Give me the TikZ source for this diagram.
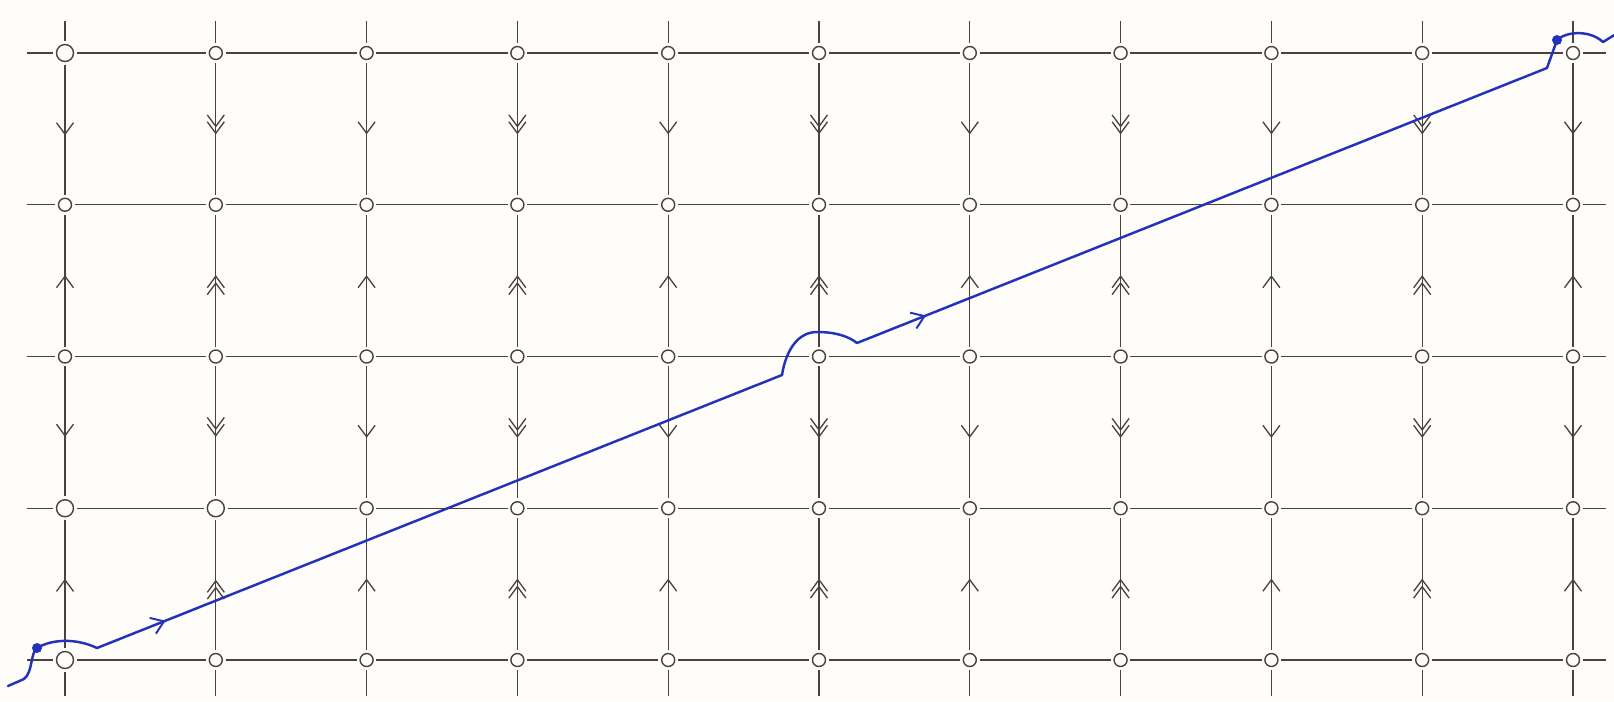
\documentclass[tikz,border=0pt]{standalone}
\usetikzlibrary{arrows.meta,decorations.markings}
\definecolor{gridcol}{RGB}{75,66,64}
\definecolor{pathblue}{RGB}{35,50,185}
\definecolor{paper}{RGB}{254,253,249}
\tikzset{barb/.tip={Straight Barb[length=2.3mm,width=3.4mm]}}
\begin{document}
\begin{tikzpicture}[x=0.02cm,y=-0.02cm,
  gridline/.style={draw=gridcol,line width=0.75pt},
  hline/.style={gridline,shorten <=1.5pt,shorten >=1.5pt},
  dot/.style={circle,draw=gridcol,line width=0.8pt,fill=paper,inner sep=0pt,minimum size=0.26cm},
  bigdot/.style={dot,minimum size=0.34cm},
  sarrow/.style={gridline,shorten <=1.5pt,shorten >=1.5pt,postaction={decorate},
    decoration={markings,mark=at position 0.54 with {\arrow{barb}}}},
  darrow/.style={gridline,shorten <=1.5pt,shorten >=1.5pt,postaction={decorate},
    decoration={markings,mark=at position 0.49 with {\arrow{barb}},mark=at position 0.54 with {\arrow{barb}}}},
  blueline/.style={draw=pathblue,line width=1.4pt,line cap=round,line join=round},
  bluearrow/.style={blueline,postaction={decorate},
    decoration={markings,mark=at position 0.1 with {\arrow[pathblue,line width=1.1pt]{Straight Barb[length=2.4mm,width=3.4mm]}}}},
  bluedot/.style={circle,fill=pathblue,inner sep=0pt,minimum size=0.2cm}
]
\fill[paper] (0,0) rectangle (1614,701);
\useasboundingbox (0,0) rectangle (1614,701);

% grid nodes
\foreach \c in {1,...,11}{
  \foreach \r in {1,...,5}{
    \node[dot] (n\c-\r) at ({65+(\c-1)*150.8},{53+(\r-1)*151.75}) {};
  }
}
\foreach \c/\r in {1/1,1/4,1/5,2/4}{
  \node[bigdot] (n\c-\r) at ({65+(\c-1)*150.8},{53+(\r-1)*151.75}) {};
}

% stub ends
\foreach \r in {1,...,5}{
  \coordinate (l\r) at (27,{53+(\r-1)*151.75});
  \coordinate (r\r) at (1606,{53+(\r-1)*151.75});
  \draw[gridline,shorten >=1.5pt] (l\r) -- (n1-\r);
  \draw[gridline,shorten <=1.5pt] (n11-\r) -- (r\r);
}
\foreach \c in {1,...,11}{
  \coordinate (t\c) at ({65+(\c-1)*150.8},21);
  \coordinate (b\c) at ({65+(\c-1)*150.8},696);
  \draw[gridline,shorten >=1.5pt] (t\c) -- (n\c-1);
  \draw[gridline,shorten <=1.5pt] (n\c-5) -- (b\c);
}

% horizontal edges
\foreach \r in {1,...,5}{
  \foreach \c [evaluate=\c as \d using int(\c+1)] in {1,...,10}{
    \draw[hline] (n\c-\r) -- (n\d-\r);
  }
}

% vertical edges with arrows
\foreach \c in {1,...,11}{
  \ifodd\c \tikzset{vedge/.style={sarrow}}\else\tikzset{vedge/.style={darrow}}\fi
  \draw[vedge] (n\c-1) -- (n\c-2);
  \draw[vedge] (n\c-3) -- (n\c-2);
  \draw[vedge] (n\c-3) -- (n\c-4);
  \draw[vedge] (n\c-5) -- (n\c-4);
}

% blue path
\coordinate (p0) at (8,686);
\coordinate (p1) at (24,679);
\coordinate (pd1) at (37,648);
\coordinate (p2) at (97,648);
\coordinate (p3) at (782,375);
\coordinate (p4) at (817,332);
\coordinate (p5) at (857,343);
\coordinate (p6) at (1547,68);
\coordinate (pd2) at (1557,40);
\coordinate (p7) at (1603,42);
\coordinate (p8) at (1616,34);

\draw[blueline] (p0) -- (p1) .. controls (33,672) and (30,654) .. (pd1)
  .. controls (52,639) and (76,638) .. (p2);
\draw[bluearrow] (p2) -- (p3);
\draw[blueline] (p3) .. controls (786,350) and (798,332) .. (p4)
  .. controls (835,332) and (848,336) .. (p5);
\draw[bluearrow] (p5) -- (p6);
\draw[blueline] (p6) -- (pd2) .. controls (1567,31) and (1590,30) .. (p7) -- (p8);
\node[bluedot] (d1) at (pd1) {};
\node[bluedot] (d2) at (pd2) {};
\end{tikzpicture}
\end{document}
